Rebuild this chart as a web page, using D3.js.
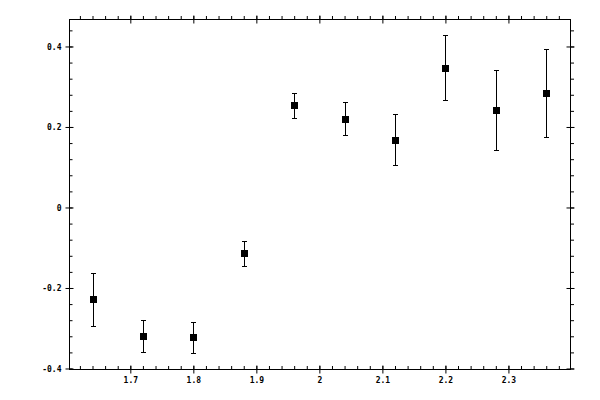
<!DOCTYPE html>
<html lang="en">
<head>
<meta charset="UTF-8">
<script src="https://d3js.org/d3.v7.min.js"></script>
<style>
  body { margin: 0; background: white; }
  .lbl { font-family: "DejaVu Sans Mono", monospace; font-size: 8px; font-weight: bold; fill: black; }
</style>
</head>
<body>
<svg width="600" height="400"></svg>
<script>
// data
const xVals  = [1.64, 1.72, 1.80, 1.88, 1.96, 2.04, 2.12, 2.20, 2.28, 2.36];
const yVals  = [-0.228, -0.320, -0.322, -0.114, 0.254, 0.219, 0.167, 0.346, 0.241, 0.284];
const yHigh  = [-0.163, -0.280, -0.285, -0.084, 0.284, 0.261, 0.231, 0.428, 0.341, 0.393];
const yLow   = [-0.295, -0.360, -0.362, -0.146, 0.222, 0.179, 0.105, 0.266, 0.142, 0.174];
const xTicks = [1.7, 1.8, 1.9, 2.0, 2.1, 2.2, 2.3];
const xTickLabels = ["1.7", "1.8", "1.9", "2", "2.1", "2.2", "2.3"];
const yTicks = [-0.4, -0.2, 0, 0.2, 0.4];
const yTickLabels = ["-0.4", "-0.2", "0", "0.2", "0.4"];

const L = 69.5, R = 570.5, T = 19.5, B = 369.5;
var x = d3.scaleLinear().domain([1.6035, 2.3985]).range([L, R]);
var y = d3.scaleLinear().domain([-0.4025, 0.467]).range([B, T]);

var svg = d3.select("svg");
var xMinor = d3.range(1.62, 2.39, 0.02);
var yMinor = d3.range(-0.4, 0.45, 0.04);

// frame
svg.append("rect").attr("x", L).attr("y", T).attr("width", R - L).attr("height", B - T)
  .attr("fill", "none").attr("stroke", "black").attr("stroke-width", 1);

function tickLines(g, horiz, a, b) {
  g.selectAll(".tick line").attr(horiz ? "y1" : "x1", a).attr(horiz ? "y2" : "x2", b)
    .attr("stroke", "black").attr("stroke-width", 1);
  g.select(".domain").remove();
}

// bottom
var gb = svg.append("g").attr("transform", "translate(0," + B + ")");
gb.append("g").call(d3.axisBottom(x).tickValues(xMinor).tickFormat("")).call(tickLines, true, 0, -3.5);
var gbm = gb.append("g").call(d3.axisBottom(x).tickValues(xTicks).tickFormat((d, i) => xTickLabels[i]));
gbm.call(tickLines, true, -4, 4);
gbm.selectAll("text").attr("class", "lbl").attr("y", 8).attr("dy", "0.71em");

// top
var gt = svg.append("g").attr("transform", "translate(0," + T + ")");
gt.append("g").call(d3.axisTop(x).tickValues(xMinor).tickFormat("")).call(tickLines, true, 0, -3.5);
gt.append("g").call(d3.axisTop(x).tickValues(xTicks).tickFormat("")).call(tickLines, true, -4, 4);

// left
var gl = svg.append("g").attr("transform", "translate(" + L + ",0)");
gl.append("g").call(d3.axisLeft(y).tickValues(yMinor).tickFormat("")).call(tickLines, false, 0, 3);
var glm = gl.append("g").call(d3.axisLeft(y).tickValues(yTicks).tickFormat((d, i) => yTickLabels[i]));
glm.call(tickLines, false, -4, 4);
glm.selectAll("text").attr("class", "lbl").attr("x", -8).attr("dy", "0.35em");

// right
var gr = svg.append("g").attr("transform", "translate(" + R + ",0)");
gr.append("g").call(d3.axisRight(y).tickValues(yMinor).tickFormat("")).call(tickLines, false, 0, 3.5);
gr.append("g").call(d3.axisRight(y).tickValues(yTicks).tickFormat("")).call(tickLines, false, -4, 4);

// error bars
var pts = svg.append("g");
var data = xVals.map((v, i) => ({x: v, y: yVals[i], hi: yHigh[i], lo: yLow[i]}));
var eb = pts.selectAll("g.eb").data(data).enter().append("g").attr("class", "eb")
  .attr("stroke", "black").attr("stroke-width", 1);
eb.append("line").attr("x1", d => Math.round(x(d.x)) + 0.5).attr("x2", d => Math.round(x(d.x)) + 0.5)
  .attr("y1", d => y(d.hi)).attr("y2", d => y(d.lo));
eb.append("line").attr("x1", d => Math.round(x(d.x)) - 2).attr("x2", d => Math.round(x(d.x)) + 3)
  .attr("y1", d => Math.round(y(d.hi)) + 0.5).attr("y2", d => Math.round(y(d.hi)) + 0.5);
eb.append("line").attr("x1", d => Math.round(x(d.x)) - 2).attr("x2", d => Math.round(x(d.x)) + 3)
  .attr("y1", d => Math.round(y(d.lo)) + 0.5).attr("y2", d => Math.round(y(d.lo)) + 0.5);

// square markers
pts.selectAll("rect").data(data).enter().append("rect")
  .attr("x", d => Math.round(x(d.x)) - 3).attr("y", d => Math.round(y(d.y)) - 3)
  .attr("width", 7).attr("height", 7).attr("fill", "black");
</script>
</body>
</html>
